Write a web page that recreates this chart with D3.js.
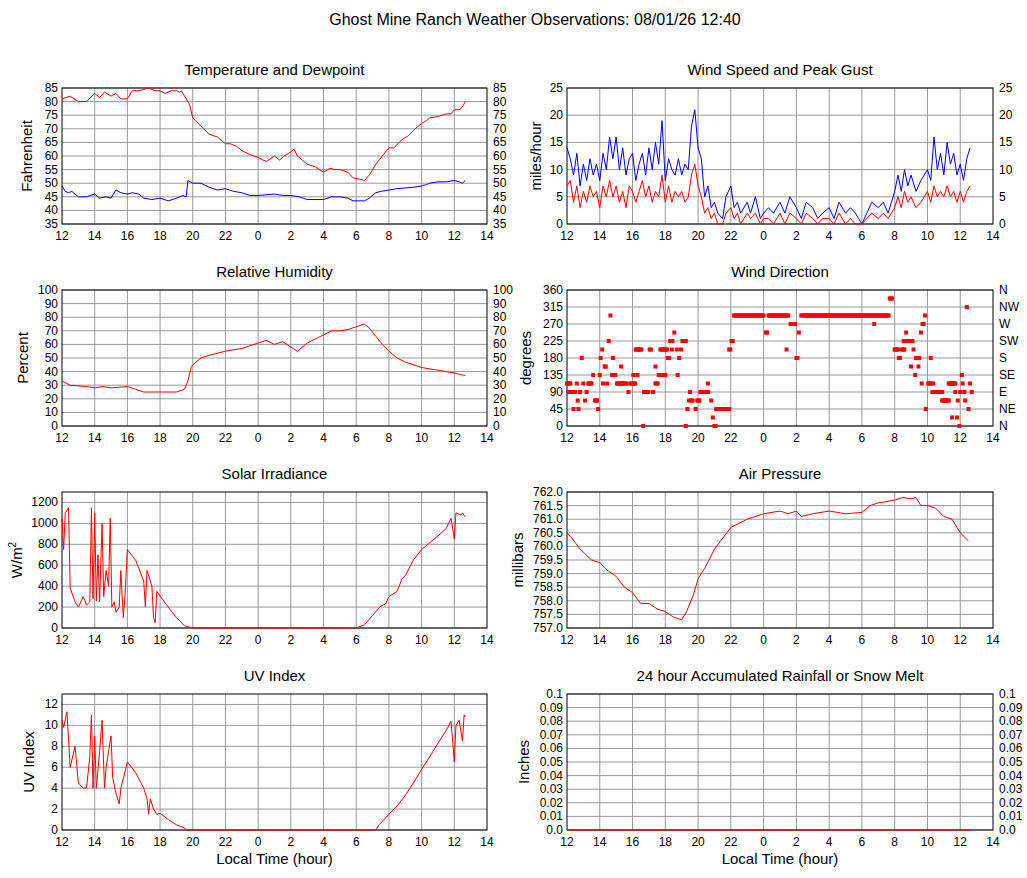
<!DOCTYPE html>
<html><head><meta charset="utf-8">
<script src="https://cdn.jsdelivr.net/npm/d3@7"></script>
<style>body{margin:0;background:#fff}text{font-family:"Liberation Sans",Arial,sans-serif;fill:#000}</style>
</head><body><svg id="c" width="1027" height="878"></svg>
<script>
// time in hours since midnight of day 1 (24 = next day 0:00)
const timeTicks = d3.range(12, 39, 2);
const tempF = [[12,81],[12.5,82],[13,80],[13.5,80],[14,83],[14.3,81.5],[14.6,83.5],[15,82],[15.3,83],[15.6,81],[16,81],[16.3,84],[16.7,84],[17,84.5],[17.3,85],[17.7,84],[18,84],[18.3,83],[18.7,84],[19,84],[19.2,83.5],[19.3,84],[19.6,81],[19.8,79],[20,74],[20.5,71],[21,68],[21.5,67],[22,64.5],[22.3,64.5],[22.7,63.5],[23,62],[23.5,60.5],[24,59.5],[24.3,58.5],[24.5,58],[25,60],[25.3,58.5],[25.6,60],[26,61.5],[26.2,62.5],[26.4,60],[27,57],[27.5,56],[28,54],[28.4,55.5],[28.7,55],[29,55],[29.5,54],[29.8,52],[30.2,51.5],[30.5,51],[30.8,53],[31.2,57],[31.6,60],[32,63],[32.3,63],[32.8,66],[33.2,67.5],[33.6,70],[34,72],[34.3,73],[34.5,74],[35,74.5],[35.5,75.5],[35.8,75.5],[36,77],[36.3,77],[36.5,78],[36.67,80]];
const dewF = [[12,49],[12.2,47],[12.4,46.5],[12.6,47],[13,45],[13.5,45],[14,46],[14.3,44.5],[14.7,45],[15,44.5],[15.3,47.5],[15.6,46.5],[16,46],[16.3,46.5],[16.7,46],[17,44.5],[17.5,44],[18,44.5],[18.5,43.5],[19,44.5],[19.4,45.5],[19.6,45],[19.7,51],[20,50],[20.5,50],[21,48.5],[21.5,47.5],[22,48],[22.5,47],[23,46.5],[23.5,45.5],[24,45.5],[25,46],[25.5,45.5],[26,45.5],[26.5,45],[27,44],[28,44],[28.5,45],[29,45],[29.5,44.5],[29.8,43.5],[30.5,43.5],[30.8,44.5],[31.2,46.5],[31.5,47],[32,47.5],[32.5,48],[33.5,48.5],[34,49],[34.3,49.5],[34.5,50],[35,50.5],[35.5,50.5],[36,51],[36.3,50.5],[36.5,50],[36.67,51]];
const humidity = [[12,33],[12.5,30],[13.5,29],[14,28],[14.5,29],[15,28],[16,29],[16.5,27],[17,25],[18,25],[18.5,25],[19,25],[19.5,27],[19.7,33],[19.9,43],[20,45],[20.5,50],[21,52],[22,55],[23,57],[24,61],[24.5,63],[25,60],[25.5,62],[26,58],[26.4,55],[27,61],[28,67],[28.5,70],[29,70],[29.5,71],[30,73],[30.5,75],[30.8,72],[31.2,66],[31.6,60],[32,55],[32.5,50],[33,47],[34,43],[35,41],[36,39],[36.67,37]];
const solar = [[12,1050],[12.1,750],[12.2,1100],[12.4,1150],[12.5,380],[12.8,250],[13,200],[13.3,300],[13.5,220],[13.7,250],[13.8,1150],[13.9,280],[14,1100],[14.1,260],[14.2,700],[14.3,250],[14.45,1000],[14.55,300],[14.7,550],[14.85,400],[14.95,1050],[15.05,200],[15.2,250],[15.3,150],[15.5,200],[15.6,550],[15.75,100],[15.85,300],[16,750],[16.5,650],[17,450],[17.1,200],[17.2,550],[17.5,400],[17.6,100],[17.7,50],[17.8,350],[18.5,200],[19,100],[19.5,20],[20,0],[30,0],[30.5,30],[31,120],[31.5,210],[31.8,230],[32,300],[32.5,350],[32.8,470],[33,500],[33.5,650],[34,750],[35,880],[35.5,950],[35.8,1050],[36,850],[36.1,1100],[36.4,1080],[36.5,1100],[36.67,1060]];
const uvIndex = [[12,10.5],[12.1,9.8],[12.3,11.3],[12.5,6],[12.8,8],[13,4.5],[13.3,4],[13.5,4],[13.7,7],[13.8,11],[13.9,4],[14,9],[14.1,4],[14.3,7.5],[14.45,10.5],[14.6,4],[14.7,6],[14.9,8],[15,9],[15.1,5],[15.3,3.5],[15.5,2.5],[15.6,4],[16,6.5],[16.5,5.5],[17,4],[17.2,3],[17.3,1.5],[17.4,3],[17.6,2],[17.8,1.5],[18,1.6],[18.5,1],[19,0.5],[19.5,0.2],[19.6,0],[31.2,0],[31.4,0.5],[32,1.5],[32.5,2.3],[33,3.3],[33.5,4.5],[34,5.8],[34.5,7],[35,8.3],[35.5,9.5],[35.8,10.4],[36,6.5],[36.1,10],[36.3,10.5],[36.5,8.5],[36.6,11],[36.67,10.8]];
const pressure = [[12,760.5],[12.3,760.3],[12.8,759.9],[13.5,759.5],[14,759.4],[14.5,759.1],[15,758.9],[15.5,758.5],[16,758.3],[16.5,757.9],[17,757.9],[17.5,757.7],[18,757.6],[18.5,757.4],[19,757.3],[19.3,757.6],[19.7,758.2],[20,758.8],[20.5,759.3],[21,759.9],[21.5,760.3],[22,760.7],[23,761],[24,761.2],[25,761.3],[25.5,761.2],[26,761.3],[26.3,761.1],[27,761.2],[28,761.3],[29,761.2],[30,761.25],[30.5,761.5],[31,761.6],[32,761.7],[32.5,761.8],[33,761.75],[33.3,761.8],[33.6,761.5],[34,761.5],[34.5,761.4],[35,761.1],[35.5,761],[36,760.5],[36.5,760.2]];
const gustTimes = [12,12.2,12.4,12.6,12.8,13,13.2,13.4,13.6,13.8,14,14.2,14.4,14.6,14.8,15,15.2,15.4,15.6,15.8,16,16.2,16.4,16.6,16.8,17,17.2,17.4,17.6,17.8,18,18.2,18.4,18.6,18.8,19,19.2,19.4,19.6,19.8,20,20.2,20.4,20.6,20.8,21,21.2,21.5,21.7,22,22.2,22.4,22.6,23,23.2,23.5,23.8,24,24.3,24.6,25,25.3,25.6,26,26.3,26.6,27,27.3,27.6,28,28.3,28.6,29,29.3,29.6,30,30.3,30.6,31,31.3,31.6,32,32.2,32.4,32.6,32.8,33,33.3,33.6,34,34.2,34.4,34.6,34.8,35,35.2,35.4,35.6,35.8,36,36.2,36.4,36.6];
const gustMph = [14,12,9,13,7,11,8,12,9,11,8,13,10,16,12,16,10,14,9,12,13,8,11,13,9,14,10,15,11,19,8,12,10,9,12,9,11,10,18,21,14,12,5,7,3,4,2,1,5,7,3,4,2,4,2,5,1,2,3,2,4,2,5,3,1,4,3,1,2,3,1,4,2,3,2,0,2,4,3,4,2,6,9,6,10,7,9,6,8,10,8,16,10,13,9,15,11,13,9,11,8,12,14];
const speedMph = [7,8,4,7,3,6,4,7,5,6,3,7,5,8,5,7,4,6,3,7,6,4,6,8,5,7,4,6,5,9,4,7,4,6,5,6,4,5,9,11,7,5,2,3,1,2,0,0,2,3,1,2,0,2,1,2,0,1,1,0,2,0,2,1,0,2,1,0,1,1,0,2,0,1,0,0,1,2,1,2,1,3,5,3,6,4,5,3,4,6,4,7,5,6,5,7,5,6,4,6,4,6,7];
// wind direction observations as [start, end, degrees] runs
const dirRuns = [[12,12.2,112.5],[12.1,12.5,90],[12.4,12.4,45],[12.6,12.6,112.5],[12.65,12.65,67.5],[12.7,12.7,45],[12.8,12.8,90],[12.9,12.9,180],[13,13,112.5],[13.1,13.1,67.5],[13.2,13.2,90],[13.3,13.5,112.5],[13.6,13.6,135],[13.7,13.85,67.5],[13.9,13.9,45],[14,14,135],[14.05,14.05,180],[14.15,14.15,202.5],[14.2,14.2,112.5],[14.3,14.4,157.5],[14.45,14.45,112.5],[14.55,14.55,225],[14.65,14.65,292.5],[14.75,14.95,135],[14.8,14.8,180],[15.05,15.7,112.5],[15.3,15.3,157.5],[15.75,15.75,90],[15.9,16.2,112.5],[16.05,16.05,135],[16.2,16.55,202.5],[16.3,16.3,135],[16.65,16.65,0],[16.7,17,90],[17.05,17.15,202.5],[17.25,17.25,90],[17.4,17.4,157.5],[17.4,17.55,112.5],[17.6,18,135],[17.7,18.1,202.5],[18.15,18.25,180],[18.3,18.45,225],[18.4,18.4,202.5],[18.55,18.55,247.5],[18.7,18.7,202.5],[18.75,18.75,135],[18.85,18.85,180],[18.95,18.95,202.5],[19.05,19.3,225],[19.25,19.25,0],[19.35,19.35,45],[19.45,19.45,67.5],[19.5,19.5,90],[19.6,19.7,67.5],[19.85,19.85,45],[19.95,20.1,67.5],[20.15,20.65,90],[20.6,20.6,112.5],[20.8,20.8,67.5],[20.9,20.9,22.5],[21,21.1,0],[21.1,21.9,45],[21.9,22,202.5],[22.05,22.15,225],[22.2,24.05,292.5],[24.15,24.25,247.5],[24.3,25.55,292.5],[25.4,25.4,202.5],[25.65,25.95,270],[26,26.1,180],[26.15,26.15,247.5],[26.3,31.65,292.5],[30.75,30.75,270],[31.7,31.85,337.5],[32,32.2,202.5],[32.25,32.35,180],[32.45,32.6,202.5],[32.55,33.1,225],[32.7,32.7,247.5],[33,33,157.5],[33.15,33.15,202.5],[33.25,33.25,135],[33.3,33.55,180],[33.45,33.45,157.5],[33.6,33.6,247.5],[33.65,33.65,112.5],[33.7,33.8,270],[33.85,33.85,292.5],[33.9,33.9,45],[34.05,34.2,112.5],[34.2,34.2,180],[34.35,34.35,112.5],[34.3,34.9,90],[34.9,35.3,67.5],[35.3,35.7,112.5],[35.5,35.5,22.5],[35.8,35.8,22.5],[35.7,35.7,90],[35.85,35.85,67.5],[35.95,35.95,0],[36,36,90],[36.1,36.1,135],[36.15,36.15,112.5],[36.25,36.25,90],[36.3,36.3,67.5],[36.4,36.4,315],[36.5,36.5,45],[36.6,36.6,112.5],[36.7,36.7,90]];
const rainfall = [[12,0],[36.67,0]];
const compass = ['N','NE','E','SE','S','SW','W','NW','N'];

const svg = d3.select('#c');
svg.append('text').attr('x', 535).attr('y', 25).attr('text-anchor', 'middle')
  .style('font-size', '16px').text('Ghost Mine Ranch Weather Observations: 08/01/26 12:40');

const cols = [{x0: 62, x1: 487}, {x0: 567, x1: 993}];
const rows = [88, 290, 492, 694];
const H = 136;

function panel(col, row, opt) {
  const c = cols[col], top = rows[row];
  const x = d3.scaleLinear().domain([12, 38]).range([c.x0, c.x1]);
  const y = d3.scaleLinear().domain(opt.domain).range([top + H, top]);
  const g = svg.append('g');
  g.append('text').attr('x', (c.x0 + c.x1) / 2).attr('y', top - 13).attr('text-anchor', 'middle')
    .style('font-size', '15px').text(opt.title);
  // grid
  g.selectAll('.vg').data(timeTicks.slice(1, -1)).enter().append('line')
    .attr('x1', d => x(d)).attr('x2', d => x(d)).attr('y1', top).attr('y2', top + H)
    .attr('stroke', '#999').attr('stroke-width', 1);
  g.selectAll('.hg').data(opt.ticks).enter().append('line')
    .attr('x1', c.x0).attr('x2', c.x1).attr('y1', d => y(d)).attr('y2', d => y(d))
    .attr('stroke', '#999').attr('stroke-width', 1);
  g.append('rect').attr('x', c.x0).attr('y', top).attr('width', c.x1 - c.x0).attr('height', H)
    .attr('fill', 'none').attr('stroke', '#000');
  // x ticks
  g.selectAll('.xt').data(timeTicks).enter().append('text')
    .attr('x', d => x(d)).attr('y', top + H + 16).attr('text-anchor', 'middle')
    .style('font-size', '12px').text(d => d % 24);
  const fmt = opt.fmt || (d => d);
  g.selectAll('.yt').data(opt.ticks).enter().append('text')
    .attr('x', c.x0 - 4).attr('y', d => y(d) + 4).attr('text-anchor', 'end')
    .style('font-size', '12px').text(fmt);
  if (opt.right) {
    g.selectAll('.yr').data(opt.ticks).enter().append('text')
      .attr('x', c.x1 + 6).attr('y', d => y(d) + 4)
      .style('font-size', '12px').text(opt.right === true ? fmt : (d, i) => opt.right[i]);
  }
  const lab = g.append('text').attr('transform', `translate(${c.x0 - (opt.labOff || 32)},${top + H / 2}) rotate(-90)`)
    .attr('text-anchor', 'middle').style('font-size', '15px');
  if (opt.label === 'W/m2') {
    lab.append('tspan').text('W/m');
    lab.append('tspan').attr('dy', -6).style('font-size', '10px').text('2');
  } else lab.text(opt.label);
  if (row === 3) {
    g.append('text').attr('x', (c.x0 + c.x1) / 2).attr('y', top + H + 34).attr('text-anchor', 'middle')
      .style('font-size', '15px').text('Local Time (hour)');
  }
  const line = d3.line().x(d => x(d[0])).y(d => y(d[1]));
  (opt.series || []).forEach(s => {
    g.append('path').datum(s.data).attr('d', line).attr('fill', 'none')
      .attr('stroke', s.color).attr('stroke-width', 1);
  });
  return {g, x, y};
}

panel(0, 0, {title: 'Temperature and Dewpoint', domain: [35, 85], ticks: d3.range(35, 86, 5), right: true,
  label: 'Fahrenheit', labOff: 30, series: [{data: tempF, color: '#f00'}, {data: dewF, color: '#00f'}]});

const gust = gustTimes.map((t, i) => [t, gustMph[i]]);
const speed = gustTimes.map((t, i) => [t, speedMph[i]]);
panel(1, 0, {title: 'Wind Speed and Peak Gust', domain: [0, 25], ticks: d3.range(0, 26, 5), right: true,
  label: 'miles/hour', labOff: 26, series: [{data: gust, color: '#00f'}, {data: speed, color: '#f00'}]});

panel(0, 1, {title: 'Relative Humidity', domain: [0, 100], ticks: d3.range(0, 101, 10), right: true,
  label: 'Percent', labOff: 34, series: [{data: humidity, color: '#f00'}]});

const wd = panel(1, 1, {title: 'Wind Direction', domain: [0, 360], ticks: d3.range(0, 361, 45), right: compass,
  label: 'degrees', labOff: 36});
const dirPts = [];
dirRuns.forEach(r => { for (let t = r[0]; t <= r[1] + 1e-6; t += 1 / 15) dirPts.push([t, r[2]]); });
wd.g.selectAll('.dp').data(dirPts).enter().append('rect')
  .attr('x', d => wd.x(d[0]) - 2).attr('y', d => wd.y(d[1]) - 2).attr('width', 4).attr('height', 4).attr('fill', '#f00');

panel(0, 2, {title: 'Solar Irradiance', domain: [0, 1300], ticks: d3.range(0, 1201, 200),
  label: 'W/m2', labOff: 40, series: [{data: solar, color: '#f00'}]});

panel(1, 2, {title: 'Air Pressure', domain: [757, 762], ticks: d3.range(757, 762.01, 0.5), fmt: d3.format('.1f'),
  label: 'millibars', labOff: 44, series: [{data: pressure, color: '#f00'}]});

panel(0, 3, {title: 'UV Index', domain: [0, 13], ticks: d3.range(0, 13, 2),
  label: 'UV Index', labOff: 28, series: [{data: uvIndex, color: '#f00'}]});

panel(1, 3, {title: '24 hour Accumulated Rainfall or Snow Melt', domain: [0, 0.1], ticks: d3.range(0, 11).map(i => i / 100),
  fmt: d => d === 0 ? '0.0' : d === 0.1 ? '0.1' : d3.format('.2f')(d), right: true,
  label: 'Inches', labOff: 38, series: [{data: rainfall, color: '#f00'}]});
</script></body></html>
